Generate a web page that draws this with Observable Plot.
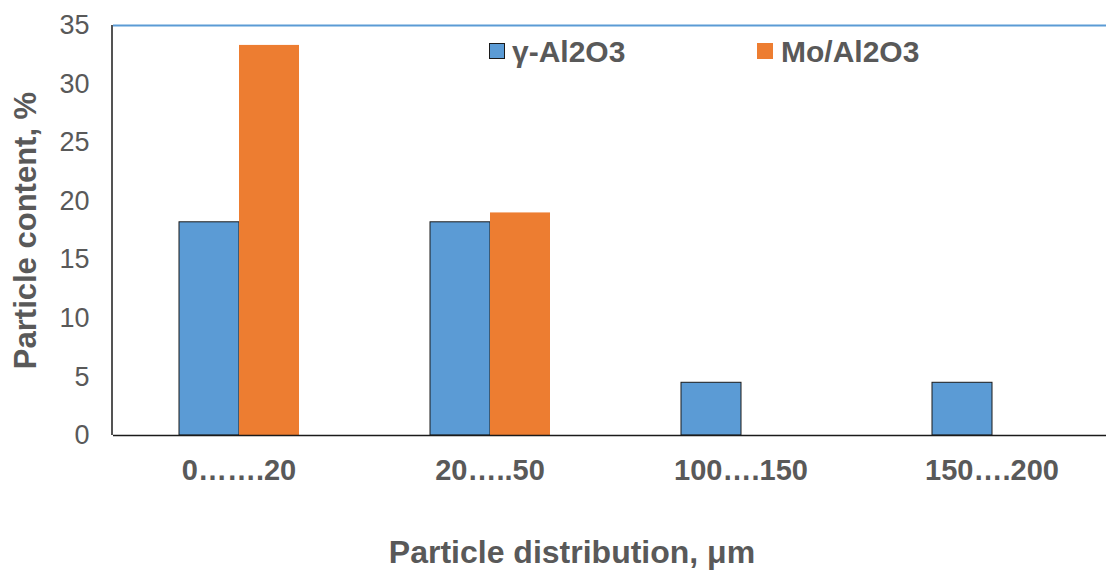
<!DOCTYPE html>
<html><head><meta charset="utf-8">
<script src="https://cdn.jsdelivr.net/npm/d3@7"></script>
<script src="https://cdn.jsdelivr.net/npm/@observablehq/plot@0.6"></script>
<style>
html,body{margin:0;padding:0;background:#fff;overflow:hidden}
#wrap{position:relative;width:1106px;height:570px;font-family:"Liberation Sans",Arial,sans-serif;color:#595959}
.sw{position:absolute;width:16px;height:16px;box-sizing:border-box}
.lt{position:absolute;font-size:30px;line-height:30px;font-weight:bold;white-space:nowrap}
#xtitle{position:absolute;left:572px;top:537px;transform:translateX(-50%);font-size:32px;line-height:31px;font-weight:bold;white-space:nowrap}
</style></head><body>
<div id="wrap"><div id="chart"></div><div id="xtitle"></div></div>
<script>
const categories = ["0…….20", "20…..50", "100….150", "150….200"];
const seriesNames = ["γ-Al2O3", "Mo/Al2O3"];
const gammaValues = [18.2, 18.2, 4.5, 4.5];
const moValues = [33.3, 19.0, 0, 0];
const yTicks = [0, 5, 10, 15, 20, 25, 30, 35];
const seriesColors = ["#5b9bd5", "#ed7d31"];
const yTitle = "Particle content, %";
const xTitle = "Particle distribution, μm";

const gammaData = categories.map((c, i) => ({category: c, series: seriesNames[0], value: gammaValues[i]}));
const moData = categories.map((c, i) => ({category: c, series: seriesNames[1], value: moValues[i]}));

const chart = Plot.plot({
  width: 1106, height: 515,
  marginLeft: 112, marginRight: -11, marginTop: 25, marginBottom: 80,
  style: {fontFamily: '"Liberation Sans", Arial, sans-serif', color: "#595959", background: "white", overflow: "visible"},
  fx: {domain: categories, padding: 0, label: null},
  x: {domain: seriesNames, paddingInner: 0, paddingOuter: 1.076, axis: null},
  y: {domain: [0, 35], nice: false},
  color: {domain: seriesNames, range: seriesColors},
  marks: [
    Plot.ruleY([35], {stroke: "#5b9bd5", strokeWidth: 2}),
    Plot.barY(gammaData, {fx: "category", x: "series", y: "value", fill: "series", stroke: "#1b1b1b", strokeWidth: 1}),
    Plot.barY(moData, {fx: "category", x: "series", y: "value", fill: "series"}),
    Plot.ruleY([0], {stroke: "#1b1b1b", strokeWidth: 1.5}),
    Plot.axisY({ticks: yTicks, tickSize: 0, tickPadding: 24, fontSize: 27, label: null}),
    Plot.axisY({ticks: [], tickSize: 0, label: yTitle, labelAnchor: "center", labelOffset: 100, labelArrow: "none", fontSize: 31, fontWeight: "bold"}),
    Plot.axisFx({anchor: "bottom", tickSize: 0, tickPadding: 24, fontSize: 29, fontWeight: "bold", label: null})
  ]
});
document.getElementById("chart").appendChild(chart);

// left axis line via the plot's y scale
const ys = chart.scale("y");
d3.select(chart).append("line")
  .attr("x1", 112).attr("x2", 112)
  .attr("y1", ys.apply(0)).attr("y2", ys.apply(35))
  .attr("stroke", "#1b1b1b").attr("stroke-width", 1.5);

// legend
const wrap = document.getElementById("wrap");
const legendPos = [{sw: 489, tx: 512}, {sw: 757, tx: 781}];
seriesNames.forEach((name, i) => {
  const s = document.createElement("div");
  s.className = "sw";
  s.style.left = legendPos[i].sw + "px";
  s.style.top = "43px";
  s.style.background = seriesColors[i];
  if (i === 0) s.style.border = "1px solid #1b1b1b";
  wrap.appendChild(s);
  const t = document.createElement("div");
  t.className = "lt";
  t.style.left = legendPos[i].tx + "px";
  t.style.top = "37px";
  t.textContent = name;
  wrap.appendChild(t);
});
document.getElementById("xtitle").textContent = xTitle;
</script>
</body></html>
